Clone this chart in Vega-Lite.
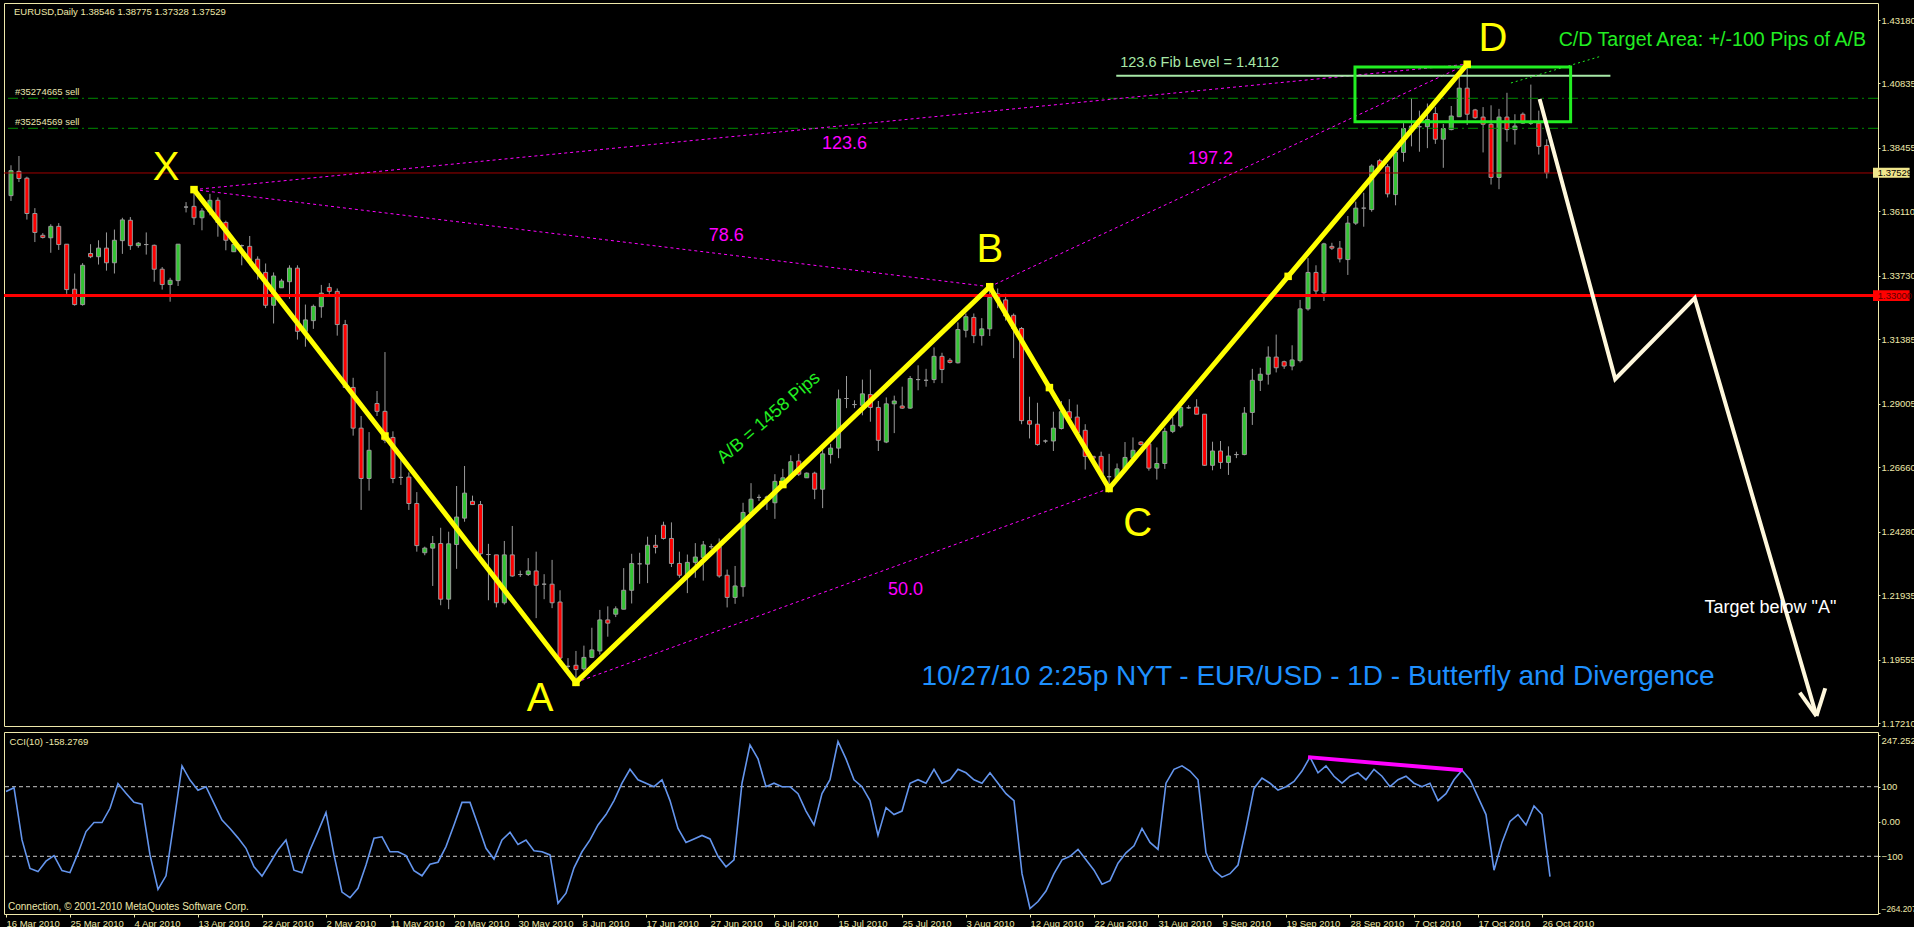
{
"$schema":"https://vega.github.io/schema/vega-lite/v6.json",
"background":"#000000",
"padding":{"left":2,"top":2,"right":0,"bottom":0},
"spacing":2,
"config":{"view":{"stroke":"#EEE8AA","strokeWidth":1},"axis":{"labelColor":"#EEE8AA","tickColor":"#EEE8AA","domain":false,"grid":false,"labelFont":"Liberation Sans","labelFontSize":9.5},"text":{"font":"Liberation Sans"}},
"resolve":{"scale":{"x":"independent","y":"independent"}},
"datasets":{
"candles":[
{"i":0,"o":1.36692,"h":1.37813,"l":1.36494,"c":1.37615},
{"i":1,"o":1.37589,"h":1.38156,"l":1.37193,"c":1.37325},
{"i":2,"o":1.37338,"h":1.37391,"l":1.35808,"c":1.36032},
{"i":3,"o":1.36032,"h":1.36230,"l":1.34977,"c":1.35333},
{"i":4,"o":1.35227,"h":1.35307,"l":1.35109,"c":1.35148},
{"i":5,"o":1.35135,"h":1.35636,"l":1.34581,"c":1.35557},
{"i":6,"o":1.35557,"h":1.35676,"l":1.34687,"c":1.34885},
{"i":7,"o":1.34898,"h":1.34898,"l":1.33064,"c":1.33222},
{"i":8,"o":1.33235,"h":1.33816,"l":1.32628,"c":1.32668},
{"i":9,"o":1.32668,"h":1.34198,"l":1.32628,"c":1.34119},
{"i":10,"o":1.34555,"h":1.34898,"l":1.34383,"c":1.34436},
{"i":11,"o":1.34436,"h":1.35043,"l":1.34146,"c":1.34753},
{"i":12,"o":1.34753,"h":1.35333,"l":1.33921,"c":1.34212},
{"i":13,"o":1.34212,"h":1.35439,"l":1.33816,"c":1.35043},
{"i":14,"o":1.35029,"h":1.35874,"l":1.34541,"c":1.35795},
{"i":15,"o":1.35782,"h":1.35900,"l":1.34687,"c":1.34845},
{"i":16,"o":1.34845,"h":1.34977,"l":1.34766,"c":1.34937},
{"i":17,"o":1.34885,"h":1.35333,"l":1.34515,"c":1.34885},
{"i":18,"o":1.34858,"h":1.34885,"l":1.33512,"c":1.33974},
{"i":19,"o":1.33974,"h":1.34053,"l":1.33222,"c":1.33407},
{"i":20,"o":1.33407,"h":1.33657,"l":1.32774,"c":1.33565},
{"i":21,"o":1.33552,"h":1.34898,"l":1.33354,"c":1.34898},
{"i":22,"o":1.36270,"h":1.36454,"l":1.36072,"c":1.36270},
{"i":23,"o":1.36296,"h":1.36915,"l":1.35610,"c":1.35874},
{"i":24,"o":1.35874,"h":1.36230,"l":1.35412,"c":1.36125},
{"i":25,"o":1.36098,"h":1.36758,"l":1.35966,"c":1.36520},
{"i":26,"o":1.36520,"h":1.36626,"l":1.35175,"c":1.35702},
{"i":27,"o":1.35702,"h":1.35768,"l":1.34673,"c":1.35043},
{"i":28,"o":1.34620,"h":1.34977,"l":1.34620,"c":1.34885},
{"i":29,"o":1.34845,"h":1.34885,"l":1.34119,"c":1.34845},
{"i":30,"o":1.34818,"h":1.35201,"l":1.34119,"c":1.34317},
{"i":31,"o":1.34344,"h":1.34449,"l":1.33592,"c":1.33895},
{"i":32,"o":1.33855,"h":1.34185,"l":1.32536,"c":1.32642},
{"i":33,"o":1.32642,"h":1.33855,"l":1.31969,"c":1.33723},
{"i":34,"o":1.33288,"h":1.33618,"l":1.33288,"c":1.33539},
{"i":35,"o":1.33512,"h":1.34119,"l":1.32879,"c":1.34014},
{"i":36,"o":1.34014,"h":1.34119,"l":1.31375,"c":1.31679},
{"i":37,"o":1.31679,"h":1.32668,"l":1.31111,"c":1.32101},
{"i":38,"o":1.32074,"h":1.32668,"l":1.31771,"c":1.32602},
{"i":39,"o":1.32589,"h":1.33394,"l":1.32180,"c":1.33090},
{"i":40,"o":1.33301,"h":1.33460,"l":1.33064,"c":1.33156},
{"i":41,"o":1.33156,"h":1.33262,"l":1.31520,"c":1.31929},
{"i":42,"o":1.31929,"h":1.32101,"l":1.29607,"c":1.29607},
{"i":43,"o":1.29607,"h":1.29963,"l":1.27826,"c":1.28103},
{"i":44,"o":1.28103,"h":1.28552,"l":1.25082,"c":1.26243},
{"i":45,"o":1.26243,"h":1.27958,"l":1.25794,"c":1.27285},
{"i":46,"o":1.29014,"h":1.29475,"l":1.28552,"c":1.28723},
{"i":47,"o":1.28723,"h":1.30913,"l":1.27549,"c":1.27654},
{"i":48,"o":1.27760,"h":1.27985,"l":1.26071,"c":1.26243},
{"i":49,"o":1.26283,"h":1.27000,"l":1.26005,"c":1.26283},
{"i":50,"o":1.26296,"h":1.26467,"l":1.25082,"c":1.25320},
{"i":51,"o":1.25320,"h":1.25741,"l":1.23540,"c":1.23764},
{"i":52,"o":1.23500,"h":1.23724,"l":1.23408,"c":1.23671},
{"i":53,"o":1.23671,"h":1.24120,"l":1.22273,"c":1.23843},
{"i":54,"o":1.23843,"h":1.24423,"l":1.21560,"c":1.21784},
{"i":55,"o":1.21784,"h":1.24278,"l":1.21415,"c":1.23830},
{"i":56,"o":1.23803,"h":1.25966,"l":1.22906,"c":1.24818},
{"i":57,"o":1.24779,"h":1.26705,"l":1.24647,"c":1.25702},
{"i":58,"o":1.25399,"h":1.25610,"l":1.25280,"c":1.25280},
{"i":59,"o":1.25280,"h":1.25412,"l":1.23367,"c":1.23461},
{"i":60,"o":1.23434,"h":1.23830,"l":1.21745,"c":1.23434},
{"i":61,"o":1.23421,"h":1.23421,"l":1.21481,"c":1.21652},
{"i":62,"o":1.21652,"h":1.23935,"l":1.21586,"c":1.23421},
{"i":63,"o":1.23421,"h":1.24489,"l":1.22616,"c":1.22642},
{"i":64,"o":1.22695,"h":1.22840,"l":1.22603,"c":1.22695},
{"i":65,"o":1.22695,"h":1.23302,"l":1.22642,"c":1.22827},
{"i":66,"o":1.22827,"h":1.23540,"l":1.21085,"c":1.22299},
{"i":67,"o":1.22339,"h":1.22708,"l":1.21784,"c":1.22339},
{"i":68,"o":1.22339,"h":1.23236,"l":1.21454,"c":1.21652},
{"i":69,"o":1.21679,"h":1.22114,"l":1.19344,"c":1.19608},
{"i":70,"o":1.19304,"h":1.19608,"l":1.19212,"c":1.19304},
{"i":71,"o":1.19344,"h":1.19872,"l":1.18710,"c":1.19185},
{"i":72,"o":1.19212,"h":1.20069,"l":1.19145,"c":1.19634},
{"i":73,"o":1.19634,"h":1.20729,"l":1.19608,"c":1.19911},
{"i":74,"o":1.19872,"h":1.21388,"l":1.19740,"c":1.21019},
{"i":75,"o":1.21019,"h":1.21520,"l":1.20399,"c":1.20900},
{"i":76,"o":1.21230,"h":1.21520,"l":1.21124,"c":1.21428},
{"i":77,"o":1.21415,"h":1.22933,"l":1.21415,"c":1.22114},
{"i":78,"o":1.22114,"h":1.23461,"l":1.21626,"c":1.23104},
{"i":79,"o":1.23091,"h":1.23500,"l":1.22352,"c":1.23091},
{"i":80,"o":1.23078,"h":1.24094,"l":1.22378,"c":1.23777},
{"i":81,"o":1.23777,"h":1.24160,"l":1.23474,"c":1.23698},
{"i":82,"o":1.24515,"h":1.24647,"l":1.23988,"c":1.24028},
{"i":83,"o":1.24028,"h":1.24621,"l":1.22972,"c":1.23104},
{"i":84,"o":1.23104,"h":1.23540,"l":1.22576,"c":1.22669},
{"i":85,"o":1.22669,"h":1.23434,"l":1.22009,"c":1.23144},
{"i":86,"o":1.23144,"h":1.23856,"l":1.22576,"c":1.23342},
{"i":87,"o":1.23329,"h":1.23935,"l":1.22471,"c":1.23790},
{"i":88,"o":1.23724,"h":1.23830,"l":1.23632,"c":1.23724},
{"i":89,"o":1.23724,"h":1.24028,"l":1.22576,"c":1.22642},
{"i":90,"o":1.22669,"h":1.22880,"l":1.21481,"c":1.21850},
{"i":91,"o":1.21850,"h":1.23012,"l":1.21613,"c":1.22273},
{"i":92,"o":1.22246,"h":1.25346,"l":1.21877,"c":1.24990},
{"i":93,"o":1.24990,"h":1.26071,"l":1.24990,"c":1.25478},
{"i":94,"o":1.25544,"h":1.25649,"l":1.25412,"c":1.25544},
{"i":95,"o":1.25544,"h":1.25610,"l":1.25082,"c":1.25560},
{"i":96,"o":1.25346,"h":1.26401,"l":1.24753,"c":1.26137},
{"i":97,"o":1.26005,"h":1.26599,"l":1.25939,"c":1.26269},
{"i":98,"o":1.26269,"h":1.27101,"l":1.26203,"c":1.26863},
{"i":99,"o":1.26890,"h":1.27153,"l":1.26335,"c":1.26401},
{"i":100,"o":1.26269,"h":1.26467,"l":1.26269,"c":1.26441},
{"i":101,"o":1.26441,"h":1.26494,"l":1.25478,"c":1.25847},
{"i":102,"o":1.25847,"h":1.27325,"l":1.25148,"c":1.27153},
{"i":103,"o":1.27127,"h":1.27523,"l":1.26797,"c":1.27365},
{"i":104,"o":1.27365,"h":1.29528,"l":1.26995,"c":1.29185},
{"i":105,"o":1.29198,"h":1.30029,"l":1.28842,"c":1.29198},
{"i":106,"o":1.28974,"h":1.29132,"l":1.28842,"c":1.28974},
{"i":107,"o":1.28948,"h":1.29897,"l":1.28578,"c":1.29370},
{"i":108,"o":1.29343,"h":1.30267,"l":1.28341,"c":1.28869},
{"i":109,"o":1.28869,"h":1.29106,"l":1.27259,"c":1.27654},
{"i":110,"o":1.27589,"h":1.29238,"l":1.27549,"c":1.29001},
{"i":111,"o":1.29001,"h":1.29304,"l":1.27919,"c":1.29106},
{"i":112,"o":1.28921,"h":1.29634,"l":1.28816,"c":1.28842},
{"i":113,"o":1.28842,"h":1.30029,"l":1.28816,"c":1.29937},
{"i":114,"o":1.29897,"h":1.30425,"l":1.29502,"c":1.29897},
{"i":115,"o":1.29871,"h":1.30293,"l":1.29634,"c":1.29871},
{"i":116,"o":1.29897,"h":1.31085,"l":1.29766,"c":1.30755},
{"i":117,"o":1.30755,"h":1.30887,"l":1.29766,"c":1.30267},
{"i":118,"o":1.30610,"h":1.30689,"l":1.30491,"c":1.30531},
{"i":119,"o":1.30517,"h":1.32008,"l":1.30491,"c":1.31745},
{"i":120,"o":1.31718,"h":1.32338,"l":1.31454,"c":1.32219},
{"i":121,"o":1.32193,"h":1.32338,"l":1.31243,"c":1.31520},
{"i":122,"o":1.31520,"h":1.32167,"l":1.31151,"c":1.31771},
{"i":123,"o":1.31771,"h":1.33328,"l":1.31507,"c":1.32932},
{"i":124,"o":1.33064,"h":1.33262,"l":1.32536,"c":1.32826},
{"i":125,"o":1.32840,"h":1.33064,"l":1.32074,"c":1.32246},
{"i":126,"o":1.32272,"h":1.32338,"l":1.30689,"c":1.31784},
{"i":127,"o":1.31784,"h":1.31837,"l":1.28248,"c":1.28380},
{"i":128,"o":1.28380,"h":1.29264,"l":1.27721,"c":1.28248},
{"i":129,"o":1.28248,"h":1.29040,"l":1.27457,"c":1.27496},
{"i":130,"o":1.27628,"h":1.27681,"l":1.27549,"c":1.27628},
{"i":131,"o":1.27628,"h":1.28710,"l":1.27259,"c":1.28103},
{"i":132,"o":1.28090,"h":1.29106,"l":1.28050,"c":1.28710},
{"i":133,"o":1.28710,"h":1.29172,"l":1.28314,"c":1.28473},
{"i":134,"o":1.28512,"h":1.28974,"l":1.27853,"c":1.27919},
{"i":135,"o":1.28024,"h":1.28248,"l":1.26573,"c":1.27061},
{"i":136,"o":1.27061,"h":1.27061,"l":1.26863,"c":1.26995},
{"i":137,"o":1.27061,"h":1.27233,"l":1.26269,"c":1.26401},
{"i":138,"o":1.26309,"h":1.27153,"l":1.25873,"c":1.26309},
{"i":139,"o":1.26269,"h":1.26797,"l":1.26230,"c":1.26599},
{"i":140,"o":1.26599,"h":1.27589,"l":1.26533,"c":1.27021},
{"i":141,"o":1.26995,"h":1.27760,"l":1.26863,"c":1.27285},
{"i":142,"o":1.27589,"h":1.27628,"l":1.27457,"c":1.27496},
{"i":143,"o":1.27523,"h":1.27589,"l":1.26533,"c":1.26626},
{"i":144,"o":1.26626,"h":1.27391,"l":1.26203,"c":1.26797},
{"i":145,"o":1.26797,"h":1.28116,"l":1.26599,"c":1.27985},
{"i":146,"o":1.27985,"h":1.28512,"l":1.27919,"c":1.28209},
{"i":147,"o":1.28182,"h":1.29106,"l":1.28116,"c":1.28869},
{"i":148,"o":1.28855,"h":1.28947,"l":1.28815,"c":1.28855},
{"i":149,"o":1.28881,"h":1.29171,"l":1.28618,"c":1.28618},
{"i":150,"o":1.28618,"h":1.28618,"l":1.26705,"c":1.26731},
{"i":151,"o":1.26731,"h":1.27602,"l":1.26546,"c":1.27259},
{"i":152,"o":1.27259,"h":1.27628,"l":1.26599,"c":1.26837},
{"i":153,"o":1.26837,"h":1.27430,"l":1.26375,"c":1.27074},
{"i":154,"o":1.27127,"h":1.27232,"l":1.26995,"c":1.27127},
{"i":155,"o":1.27127,"h":1.28881,"l":1.27100,"c":1.28657},
{"i":156,"o":1.28683,"h":1.30293,"l":1.28222,"c":1.29871},
{"i":157,"o":1.29871,"h":1.30333,"l":1.29475,"c":1.30095},
{"i":158,"o":1.30095,"h":1.31124,"l":1.29712,"c":1.30728},
{"i":159,"o":1.30728,"h":1.31559,"l":1.30161,"c":1.30333},
{"i":160,"o":1.30557,"h":1.30596,"l":1.30293,"c":1.30398},
{"i":161,"o":1.30398,"h":1.31164,"l":1.30240,"c":1.30623},
{"i":162,"o":1.30596,"h":1.32839,"l":1.30530,"c":1.32509},
{"i":163,"o":1.32509,"h":1.34383,"l":1.32443,"c":1.33855},
{"i":164,"o":1.33855,"h":1.34119,"l":1.33010,"c":1.33169},
{"i":165,"o":1.33103,"h":1.34950,"l":1.32799,"c":1.34910},
{"i":166,"o":1.34818,"h":1.34950,"l":1.34686,"c":1.34752},
{"i":167,"o":1.34752,"h":1.35016,"l":1.34225,"c":1.34357},
{"i":168,"o":1.34330,"h":1.35940,"l":1.33763,"c":1.35676},
{"i":169,"o":1.35676,"h":1.36468,"l":1.35610,"c":1.36230},
{"i":170,"o":1.36230,"h":1.36797,"l":1.35544,"c":1.36230},
{"i":171,"o":1.36177,"h":1.37853,"l":1.36098,"c":1.37787},
{"i":172,"o":1.37984,"h":1.38050,"l":1.37655,"c":1.37760},
{"i":173,"o":1.37760,"h":1.37853,"l":1.36626,"c":1.36757},
{"i":174,"o":1.36731,"h":1.38380,"l":1.36335,"c":1.38288},
{"i":175,"o":1.38288,"h":1.39370,"l":1.37945,"c":1.39172},
{"i":176,"o":1.39106,"h":1.40293,"l":1.38512,"c":1.39264},
{"i":177,"o":1.39238,"h":1.39831,"l":1.38314,"c":1.39238},
{"i":178,"o":1.39238,"h":1.40095,"l":1.38446,"c":1.39502},
{"i":179,"o":1.39726,"h":1.39963,"l":1.38604,"c":1.38776},
{"i":180,"o":1.38776,"h":1.39343,"l":1.37720,"c":1.39172},
{"i":181,"o":1.39132,"h":1.40003,"l":1.39106,"c":1.39634},
{"i":182,"o":1.39607,"h":1.41085,"l":1.39607,"c":1.40663},
{"i":183,"o":1.40663,"h":1.41547,"l":1.39304,"c":1.39700},
{"i":184,"o":1.39858,"h":1.39897,"l":1.39528,"c":1.39568},
{"i":185,"o":1.39594,"h":1.39963,"l":1.38288,"c":1.39330},
{"i":186,"o":1.39330,"h":1.40029,"l":1.37101,"c":1.37364},
{"i":187,"o":1.37364,"h":1.39897,"l":1.36929,"c":1.39594},
{"i":188,"o":1.39594,"h":1.40491,"l":1.38684,"c":1.39132},
{"i":189,"o":1.39132,"h":1.39700,"l":1.38578,"c":1.39264},
{"i":190,"o":1.39700,"h":1.39765,"l":1.39343,"c":1.39370},
{"i":191,"o":1.39370,"h":1.40794,"l":1.39304,"c":1.39370},
{"i":192,"o":1.39370,"h":1.39831,"l":1.38209,"c":1.38512},
{"i":193,"o":1.38546,"h":1.38775,"l":1.37328,"c":1.37529}
],
"cci":[
{"i":0,"v":86},{"i":1,"v":97},{"i":2,"v":-53},{"i":3,"v":-135},{"i":4,"v":-144},{"i":5,"v":-114},{"i":6,"v":-98},{"i":7,"v":-141},{"i":8,"v":-147},{"i":9,"v":-91},
{"i":10,"v":-29},{"i":11,"v":-3},{"i":12,"v":-3},{"i":13,"v":38},{"i":14,"v":109},{"i":15,"v":81},{"i":16,"v":55},{"i":17,"v":50},{"i":18,"v":-96},{"i":19,"v":-195},
{"i":20,"v":-156},{"i":21,"v":0},{"i":22,"v":160},{"i":23,"v":119},{"i":24,"v":90},{"i":25,"v":100},{"i":26,"v":52},{"i":27,"v":4},{"i":28,"v":-20},{"i":29,"v":-47},
{"i":30,"v":-77},{"i":31,"v":-130},{"i":32,"v":-157},{"i":33,"v":-120},{"i":34,"v":-82},{"i":35,"v":-53},{"i":36,"v":-140},{"i":37,"v":-147},{"i":38,"v":-82},{"i":39,"v":-29},
{"i":40,"v":26},{"i":41,"v":-96},{"i":42,"v":-203},{"i":43,"v":-219},{"i":44,"v":-192},{"i":45,"v":-125},{"i":46,"v":-48},{"i":47,"v":-44},{"i":48,"v":-87},{"i":49,"v":-87},
{"i":50,"v":-98},{"i":51,"v":-141},{"i":52,"v":-156},{"i":53,"v":-123},{"i":54,"v":-117},{"i":55,"v":-72},{"i":56,"v":-10},{"i":57,"v":55},{"i":58,"v":55},{"i":59,"v":-10},
{"i":60,"v":-77},{"i":61,"v":-108},{"i":62,"v":-53},{"i":63,"v":-31},{"i":64,"v":-66},{"i":65,"v":-53},{"i":66,"v":-84},{"i":67,"v":-87},{"i":68,"v":-96},{"i":69,"v":-235},
{"i":70,"v":-206},{"i":71,"v":-133},{"i":72,"v":-87},{"i":73,"v":-53},{"i":74,"v":-10},{"i":75,"v":20},{"i":76,"v":60},{"i":77,"v":110},{"i":78,"v":150},{"i":79,"v":120},
{"i":80,"v":110},{"i":81,"v":100},{"i":82,"v":120},{"i":83,"v":60},{"i":84,"v":-20},{"i":85,"v":-60},{"i":86,"v":-50},{"i":87,"v":-40},{"i":88,"v":-50},{"i":89,"v":-100},
{"i":90,"v":-130},{"i":91,"v":-110},{"i":92,"v":110},{"i":93,"v":220},{"i":94,"v":180},{"i":95,"v":100},{"i":96,"v":110},{"i":97,"v":100},{"i":98,"v":100},{"i":99,"v":80},
{"i":100,"v":30},{"i":101,"v":-10},{"i":102,"v":80},{"i":103,"v":120},{"i":104,"v":230},{"i":105,"v":180},{"i":106,"v":120},{"i":107,"v":100},{"i":108,"v":60},{"i":109,"v":-40},
{"i":110,"v":40},{"i":111,"v":20},{"i":112,"v":30},{"i":113,"v":110},{"i":114,"v":120},{"i":115,"v":110},{"i":116,"v":150},{"i":117,"v":110},{"i":118,"v":120},{"i":119,"v":150},
{"i":120,"v":140},{"i":121,"v":120},{"i":122,"v":110},{"i":123,"v":140},{"i":124,"v":110},{"i":125,"v":80},{"i":126,"v":60},{"i":127,"v":-150},{"i":128,"v":-250},{"i":129,"v":-230},
{"i":130,"v":-200},{"i":131,"v":-150},{"i":132,"v":-110},{"i":133,"v":-100},{"i":134,"v":-80},{"i":135,"v":-110},{"i":136,"v":-140},{"i":137,"v":-180},{"i":138,"v":-170},{"i":139,"v":-120},
{"i":140,"v":-90},{"i":141,"v":-70},{"i":142,"v":-20},{"i":143,"v":-60},{"i":144,"v":-80},{"i":145,"v":110},{"i":146,"v":150},{"i":147,"v":160},{"i":148,"v":145},{"i":149,"v":120},
{"i":150,"v":-90},{"i":151,"v":-140},{"i":152,"v":-160},{"i":153,"v":-150},{"i":154,"v":-125},{"i":155,"v":-20},{"i":156,"v":95},{"i":157,"v":125},{"i":158,"v":110},{"i":159,"v":90},
{"i":160,"v":100},{"i":161,"v":115},{"i":162,"v":145},{"i":163,"v":185},{"i":164,"v":140},{"i":165,"v":160},{"i":166,"v":130},{"i":167,"v":110},{"i":168,"v":130},{"i":169,"v":140},
{"i":170,"v":120},{"i":171,"v":150},{"i":172,"v":130},{"i":173,"v":100},{"i":174,"v":120},{"i":175,"v":130},{"i":176,"v":110},{"i":177,"v":100},{"i":178,"v":110},{"i":179,"v":60},
{"i":180,"v":80},{"i":181,"v":120},{"i":182,"v":147},{"i":183,"v":120},{"i":184,"v":70},{"i":185,"v":20},{"i":186,"v":-140},{"i":187,"v":-60},{"i":188,"v":0},{"i":189,"v":20},
{"i":190,"v":-10},{"i":191,"v":45},{"i":192,"v":20},{"i":193,"v":-158.2769}
],
"zigzag":[{"i":23,"p":1.36915},{"i":71,"p":1.1871},{"i":123,"p":1.33328},{"i":138,"p":1.25873},{"i":183,"p":1.41547}],
"nodes":[{"i":23,"p":1.36915},{"i":71,"p":1.1871},{"i":123,"p":1.33328},{"i":138,"p":1.25873},{"i":183,"p":1.41547},{"i":47,"p":1.27813},{"i":97,"p":1.26019},{"i":130.5,"p":1.29601},{"i":160.5,"p":1.3371}],
"fibs":[{"i1":23,"p1":1.36915,"i2":183,"p2":1.41547},{"i1":23,"p1":1.36915,"i2":123,"p2":1.33328},{"i1":71,"p1":1.1871,"i2":138,"p2":1.25873},{"i1":123,"p1":1.33328,"i2":183,"p2":1.41547}],
"fibLabels":[{"i":104.75,"p":1.38599,"t":"123.6"},{"i":89.9,"p":1.35216,"t":"78.6"},{"i":112.4,"p":1.22138,"t":"50.0"},{"i":150.75,"p":1.38049,"t":"197.2"}],
"letters":[{"i":19.5,"p":1.37713,"t":"X"},{"i":66.5,"p":1.18097,"t":"A"},{"i":123,"p":1.34684,"t":"B"},{"i":141.6,"p":1.24562,"t":"C"},{"i":186.25,"p":1.42478,"t":"D"}],
"arrow":[{"i":192.1,"p":1.40262},{"i":201.6,"p":1.29918},{"i":211.6,"p":1.3291},{"i":226.9,"p":1.17469}],
"wings":[{"i1":224.8,"p1":1.1833,"i2":226.9,"p2":1.17469},{"i1":228.0,"p1":1.18494,"i2":226.9,"p2":1.17469}],
"orders":[{"i":0.5,"p":1.40288,"t":"#35274665 sell"},{"i":0.5,"p":1.39179,"t":"#35254569 sell"}]
},
"vconcat":[
{"width":1874,"height":723,
"layer":[
{"data":{"name":"candles"},"mark":{"type":"rule","color":"#9A9A9A","strokeWidth":1},
 "encoding":{"x":{"field":"i","type":"quantitative","scale":{"domain":[-0.25,234],"nice":false,"zero":false},"axis":null},
  "y":{"field":"l","type":"quantitative","scale":{"domain":[1.171,1.43808],"nice":false,"zero":false},"title":null,
   "axis":{"orient":"right","values":[1.4318,1.4199,1.40835,1.39645,1.38455,1.37265,1.3611,1.3492,1.3373,1.3254,1.31385,1.30195,1.29005,1.27815,1.2666,1.2547,1.2428,1.2309,1.21935,1.20745,1.19555,1.18365,1.1721],"format":".5f","tickSize":2,"labelPadding":1}},
  "y2":{"field":"h"}}},
{"data":{"name":"candles"},"mark":{"type":"bar","size":4,"stroke":"#9A9A9A","strokeWidth":1},
 "encoding":{"x":{"field":"i","type":"quantitative"},"y":{"field":"o","type":"quantitative"},"y2":{"field":"c"},
  "color":{"condition":{"test":"datum.c > datum.o","value":"#33C433"},"value":"#FF0000"}}},
{"data":{"name":"orders"},"mark":{"type":"rule","color":"#008C00","strokeWidth":1,"strokeDash":[10,4,2,4]},
 "encoding":{"y":{"field":"p","type":"quantitative"}}},
{"data":{"name":"orders"},"mark":{"type":"text","align":"left","baseline":"bottom","dy":-1,"fontSize":9.5,"color":"#E8E4B0"},
 "encoding":{"x":{"field":"i","type":"quantitative"},"y":{"field":"p","type":"quantitative"},"text":{"field":"t"}}},
{"data":{"values":[{"p":1.37529}]},"mark":{"type":"rule","color":"#A00000","strokeWidth":1},
 "encoding":{"y":{"field":"p","type":"quantitative"}}},
{"data":{"values":[{"p":1.33}]},"mark":{"type":"rule","color":"#FF0000","strokeWidth":3},
 "encoding":{"y":{"field":"p","type":"quantitative"}}},
{"data":{"name":"fibs"},"mark":{"type":"rule","color":"#FF00FF","strokeWidth":1,"strokeDash":[3,3]},
 "encoding":{"x":{"field":"i1","type":"quantitative"},"x2":{"field":"i2"},"y":{"field":"p1","type":"quantitative"},"y2":{"field":"p2"}}},
{"data":{"name":"fibLabels"},"mark":{"type":"text","align":"center","baseline":"middle","fontSize":18,"color":"#FF00FF"},
 "encoding":{"x":{"field":"i","type":"quantitative"},"y":{"field":"p","type":"quantitative"},"text":{"field":"t"}}},
{"data":{"values":[{"i1":138.9,"i2":201,"p":1.4112}]},"mark":{"type":"rule","color":"#A8E8A8","strokeWidth":2},
 "encoding":{"x":{"field":"i1","type":"quantitative"},"x2":{"field":"i2"},"y":{"field":"p","type":"quantitative"}}},
{"data":{"values":[{"i":139.4,"p":1.41592,"t":"123.6 Fib Level  = 1.4112"}]},"mark":{"type":"text","align":"left","baseline":"middle","fontSize":14.5,"color":"#A8E8A8"},
 "encoding":{"x":{"field":"i","type":"quantitative"},"y":{"field":"p","type":"quantitative"},"text":{"field":"t"}}},
{"data":{"values":[{"i1":168.9,"i2":196,"p1":1.39423,"p2":1.41444}]},"mark":{"type":"rect","fillOpacity":0,"stroke":"#22EE22","strokeWidth":3},
 "encoding":{"x":{"field":"i1","type":"quantitative"},"x2":{"field":"i2"},"y":{"field":"p1","type":"quantitative"},"y2":{"field":"p2"}}},
{"data":{"values":[{"i1":188.5,"p1":1.40853,"i2":199.9,"p2":1.4185}]},"mark":{"type":"rule","color":"#22EE22","strokeWidth":1,"strokeDash":[2,3]},
 "encoding":{"x":{"field":"i1","type":"quantitative"},"x2":{"field":"i2"},"y":{"field":"p1","type":"quantitative"},"y2":{"field":"p2"}}},
{"data":{"values":[{"i":194.5,"p":1.42441,"t":"C/D Target Area: +/-100 Pips of A/B"}]},"mark":{"type":"text","align":"left","baseline":"middle","fontSize":19.6,"color":"#22EE22"},
 "encoding":{"x":{"field":"i","type":"quantitative"},"y":{"field":"p","type":"quantitative"},"text":{"field":"t"}}},
{"data":{"name":"zigzag"},"mark":{"type":"line","color":"#FFFF00","strokeWidth":5},
 "encoding":{"x":{"field":"i","type":"quantitative"},"y":{"field":"p","type":"quantitative"}}},
{"data":{"name":"nodes"},"mark":{"type":"point","shape":"square","filled":true,"size":56,"color":"#FFFF00","opacity":1},
 "encoding":{"x":{"field":"i","type":"quantitative"},"y":{"field":"p","type":"quantitative"}}},
{"data":{"name":"letters"},"mark":{"type":"text","align":"center","baseline":"middle","fontSize":40,"color":"#FFFF00"},
 "encoding":{"x":{"field":"i","type":"quantitative"},"y":{"field":"p","type":"quantitative"},"text":{"field":"t"}}},
{"data":{"values":[{"i":95.25,"p":1.28477,"t":"A/B = 1458 Pips"}]},"mark":{"type":"text","align":"center","baseline":"middle","fontSize":18,"angle":319,"color":"#22EE22"},
 "encoding":{"x":{"field":"i","type":"quantitative"},"y":{"field":"p","type":"quantitative"},"text":{"field":"t"}}},
{"data":{"name":"arrow"},"mark":{"type":"line","color":"#FFF8DC","strokeWidth":4,"strokeJoin":"miter"},
 "encoding":{"x":{"field":"i","type":"quantitative"},"y":{"field":"p","type":"quantitative"}}},
{"data":{"name":"wings"},"mark":{"type":"rule","color":"#FFF8DC","strokeWidth":4},
 "encoding":{"x":{"field":"i1","type":"quantitative"},"x2":{"field":"i2"},"y":{"field":"p1","type":"quantitative"},"y2":{"field":"p2"}}},
{"data":{"values":[{"i":221.1,"p":1.21459,"t":"Target below \"A\""}]},"mark":{"type":"text","align":"center","baseline":"middle","fontSize":18,"color":"#FFFFFF"},
 "encoding":{"x":{"field":"i","type":"quantitative"},"y":{"field":"p","type":"quantitative"},"text":{"field":"t"}}},
{"data":{"values":[{"i":164.25,"p":1.1891,"t":"10/27/10 2:25p NYT - EUR/USD - 1D - Butterfly and Divergence"}]},"mark":{"type":"text","align":"center","baseline":"middle","fontSize":28,"color":"#1E90FF"},
 "encoding":{"x":{"field":"i","type":"quantitative"},"y":{"field":"p","type":"quantitative"},"text":{"field":"t"}}},
{"data":{"values":[{"i":0.375,"p":1.43476,"t":"EURUSD,Daily  1.38546 1.38775 1.37328 1.37529"}]},"mark":{"type":"text","align":"left","baseline":"middle","fontSize":9.5,"color":"#EEE8AA"},
 "encoding":{"x":{"field":"i","type":"quantitative"},"y":{"field":"p","type":"quantitative"},"text":{"field":"t"}}},
{"data":{"values":[{"i1":234,"i2":238.6,"p1":1.37355,"p2":1.37724}]},"mark":{"type":"rect","color":"#F0E68C"},
 "encoding":{"x":{"field":"i1","type":"quantitative"},"x2":{"field":"i2"},"y":{"field":"p1","type":"quantitative"},"y2":{"field":"p2"}}},
{"data":{"values":[{"i1":234,"i2":238.6,"p1":1.328,"p2":1.33195}]},"mark":{"type":"rect","color":"#FF0000"},
 "encoding":{"x":{"field":"i1","type":"quantitative"},"x2":{"field":"i2"},"y":{"field":"p1","type":"quantitative"},"y2":{"field":"p2"}}},
{"data":{"values":[{"i":234.6,"p":1.37529,"t":"1.37529"}]},"mark":{"type":"text","align":"left","baseline":"middle","fontSize":9.5,"color":"#000000"},
 "encoding":{"x":{"field":"i","type":"quantitative"},"y":{"field":"p","type":"quantitative"},"text":{"field":"t"}}},
{"data":{"values":[{"i":234.6,"p":1.32998,"t":"1.33000"}]},"mark":{"type":"text","align":"left","baseline":"middle","fontSize":9.5,"color":"#600000"},
 "encoding":{"x":{"field":"i","type":"quantitative"},"y":{"field":"p","type":"quantitative"},"text":{"field":"t"}}}
]},
{"width":1874,"height":182,
"layer":[
{"data":{"values":[{"v":100},{"v":-100}]},"mark":{"type":"rule","color":"#C8C8C8","strokeWidth":1,"strokeDash":[4,3]},
 "encoding":{"y":{"field":"v","type":"quantitative"}}},
{"data":{"name":"cci"},"mark":{"type":"line","color":"#6495ED","strokeWidth":1.6},
 "encoding":{"x":{"field":"i","type":"quantitative","scale":{"domain":[-0.25,234],"nice":false,"zero":false},"title":null,
   "axis":{"orient":"bottom","values":[0,8,16,24,32,40,48,56,64,72,80,88,96,104,112,120,128,136,144,152,160,168,176,184,192],
    "labelExpr":"['16 Mar 2010','25 Mar 2010','4 Apr 2010','13 Apr 2010','22 Apr 2010','2 May 2010','11 May 2010','20 May 2010','30 May 2010','8 Jun 2010','17 Jun 2010','27 Jun 2010','6 Jul 2010','15 Jul 2010','25 Jul 2010','3 Aug 2010','12 Aug 2010','22 Aug 2010','31 Aug 2010','9 Sep 2010','19 Sep 2010','28 Sep 2010','7 Oct 2010','17 Oct 2010','26 Oct 2010'][round(datum.value/8)]",
    "labelAlign":"left","labelPadding":1,"tickSize":3,"labelBaseline":"top"}},
  "y":{"field":"v","type":"quantitative","scale":{"domain":[-265.8,257.2],"nice":false,"zero":false},"title":null,
   "axis":{"orient":"right","values":[-264.207,-100,0,100,247.252],"labelExpr":"datum.value==0?'0.00':(abs(datum.value)==100?format(datum.value,'d'):format(datum.value,'.3f'))","labelFlush":10,"tickSize":2,"labelPadding":1,
    "labelFontSize":{"condition":{"test":"datum.value < -200","value":8.4},"value":9.5}}}}},
{"data":{"values":[{"i1":162.75,"v1":185,"i2":182.1,"v2":147}]},"mark":{"type":"rule","color":"#FF00FF","strokeWidth":4},
 "encoding":{"x":{"field":"i1","type":"quantitative"},"x2":{"field":"i2"},"y":{"field":"v1","type":"quantitative"},"y2":{"field":"v2"}}},
{"data":{"values":[{"i":0.45,"v":228.5,"t":"CCI(10) -158.2769"}]},"mark":{"type":"text","align":"left","baseline":"middle","fontSize":9.5,"color":"#EEE8AA"},
 "encoding":{"x":{"field":"i","type":"quantitative"},"y":{"field":"v","type":"quantitative"},"text":{"field":"t"}}},
{"data":{"values":[{"i":0.25,"v":-245.7,"t":"Connection, © 2001-2010 MetaQuotes Software Corp."}]},"mark":{"type":"text","align":"left","baseline":"middle","fontSize":10,"color":"#EEE8AA"},
 "encoding":{"x":{"field":"i","type":"quantitative"},"y":{"field":"v","type":"quantitative"},"text":{"field":"t"}}}
]}
]
}
